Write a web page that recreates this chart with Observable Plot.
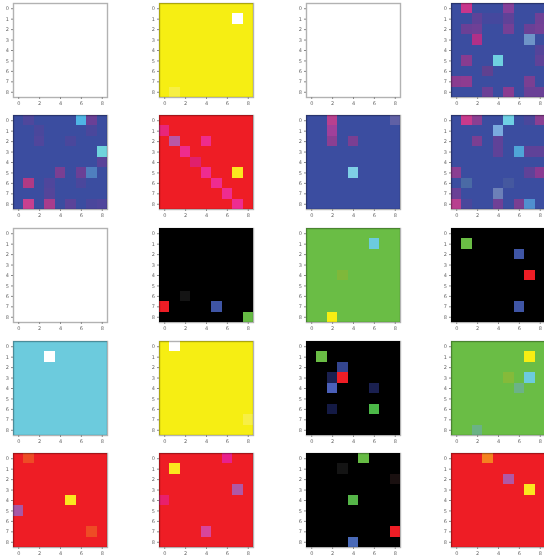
<!DOCTYPE html>
<html>
<head>
<meta charset="utf-8">
<script src="https://cdn.jsdelivr.net/npm/d3@7"></script>
<script src="https://cdn.jsdelivr.net/npm/@observablehq/plot@0.6"></script>
<style>
html,body{margin:0;padding:0;background:#fff;overflow:hidden;width:544px;height:560px}
#grid{position:relative;width:544px;height:560px;overflow:hidden;filter:blur(0.5px)}
#grid svg{position:absolute;background:transparent;overflow:visible}
</style>
</head>
<body>
<div id="grid"></div>
<script>
const gridIndex = [0,1,2,3,4,5,6,7,8];
const xTicks = [0,2,4,6,8];
const yTicks = gridIndex;
const W="#ffffff",Y="#f6ee13",B="#3b4da0",R="#ee1d25",K="#000000",G="#6abd45",C="#6ccbdd";

// background colour of each panel, row by row
const backgrounds = [W,Y,W,B, B,R,B,B, W,K,G,K, C,Y,K,G, R,R,K,R];

// differing cells of each panel: [column, row, colour]
const cells00 = [];
const cells01 = [[7,1,"#ffffff"],[1,8,"#f7ef45"]];
const cells02 = [];
const cells03 = [[1,0,"#c8358c"],[5,0,"#85409a"],[2,1,"#5f4298"],[3,1,"#45489e"],[4,1,"#45489e"],[5,1,"#5f4298"],[8,1,"#6f4096"],
  [1,2,"#6a4096"],[2,2,"#6f4096"],[5,2,"#744096"],[7,2,"#6a4096"],[8,2,"#744096"],[2,3,"#b03088"],[7,3,"#6e94c8"],[8,4,"#54449a"],
  [1,5,"#873c90"],[4,5,"#6fd0e0"],[8,5,"#5f4298"],[3,6,"#5f4190"],[0,7,"#8a3c90"],[1,7,"#8f3c90"],[7,7,"#7a3f92"],
  [3,8,"#6b4096"],[5,8,"#8a3c90"],[7,8,"#6a4096"],[8,8,"#6a4096"]];
const cells10 = [[1,0,"#4f479c"],[6,0,"#4fb5e5"],[7,0,"#6a4096"],[7,1,"#4a479c"],[2,1,"#4a479c"],[2,2,"#50469c"],[5,2,"#4a479c"],
  [8,3,"#6fd3dc"],[8,4,"#5a4399"],[4,5,"#7a3f92"],[6,5,"#6a4096"],[7,5,"#4f7fbf"],[1,6,"#b03a84"],[3,6,"#4f469c"],[6,6,"#4a479c"],
  [3,7,"#54459a"],[1,8,"#c8408f"],[3,8,"#a83c8c"],[5,8,"#5a4399"],[7,8,"#4a479c"],[8,8,"#50469c"]];
const cells11 = [[0,1,"#e8267a"],[1,2,"#b858a5"],[4,2,"#ee2c8c"],[2,3,"#ee2c8c"],[3,4,"#e0206c"],[4,5,"#ee2c90"],[7,5,"#fbe61f"],
  [5,6,"#ee2c90"],[6,7,"#ee2c90"],[7,8,"#ee2c90"]];
const cells12 = [[2,0,"#b8408f"],[8,0,"#6060a5"],[2,1,"#a0409a"],[2,2,"#8a3f92"],[4,2,"#7a3f92"],[4,5,"#7fd0e6"]];
const cells13 = [[1,0,"#c83a8c"],[2,0,"#8a3f92"],[5,0,"#6fd0e4"],[7,0,"#4a479c"],[8,0,"#8a3f92"],[4,1,"#7aaade"],[2,2,"#7a3f92"],
  [4,2,"#5f4298"],[4,3,"#5f4298"],[6,3,"#4fa5d8"],[7,3,"#5f4298"],[8,3,"#5f4298"],[0,5,"#8a3f92"],[7,5,"#5f4298"],[8,5,"#8a3a92"],
  [1,6,"#4a6aa5"],[5,6,"#45589f"],[0,7,"#6a4096"],[4,7,"#6c80b8"],[0,8,"#b8408f"],[1,8,"#4a479c"],[4,8,"#6f4096"],[6,8,"#7a3f92"],[7,8,"#5090cf"]];
const cells20 = [];
const cells21 = [[2,6,"#141414"],[0,7,"#ee1d25"],[5,7,"#3f55a5"],[8,8,"#66bb44"]];
const cells22 = [[6,1,"#6ccbdd"],[3,4,"#7fb83a"],[2,8,"#f6ee13"]];
const cells23 = [[1,1,"#6abd45"],[6,2,"#3f55a5"],[7,4,"#ee1d25"],[6,7,"#3f55a5"]];
const cells30 = [[3,1,"#ffffff"]];
const cells31 = [[1,0,"#ffffff"],[8,7,"#f7ef45"]];
const cells32 = [[1,1,"#6abd45"],[3,2,"#34458f"],[2,3,"#1a2050"],[3,3,"#ee1d25"],[2,4,"#4a5fb8"],[6,4,"#1a2050"],[2,6,"#141a45"],[6,6,"#4cb848"]];
const cells33 = [[7,1,"#f6ee13"],[5,3,"#85ba3a"],[7,3,"#6ccbdd"],[6,4,"#6cb288"],[2,8,"#6bb285"]];
const cells40 = [[1,0,"#ee4c25"],[5,4,"#fbe61f"],[0,5,"#a858a5"],[7,7,"#ee4c25"]];
const cells41 = [[6,0,"#e8208c"],[1,1,"#fbe61f"],[7,3,"#b058a5"],[0,4,"#e8206c"],[4,7,"#d8459b"]];
const cells42 = [[5,0,"#66bb44"],[3,1,"#141414"],[8,2,"#1a1010"],[4,4,"#55b548"],[8,7,"#ee1d25"],[4,8,"#4a6ab8"]];
const cells43 = [[3,0,"#f58220"],[5,2,"#b058a5"],[7,3,"#fbe61f"]];
const highlights = [cells00,cells01,cells02,cells03,cells10,cells11,cells12,cells13,cells20,cells21,cells22,cells23,cells30,cells31,cells32,cells33,cells40,cells41,cells42,cells43];

const lefts = [13,159,306,451];
const tops = [3,115,228,341,453];
const side = 94, mL = 13, mT = 3, mB = 13, mR = 2;
const host = document.getElementById("grid");

highlights.forEach((hl, i) => {
  const col = i % 4, row = Math.floor(i / 4);
  const table = [];
  for (const r of gridIndex) for (const c of gridIndex) table.push({c, r, fill: backgrounds[i]});
  for (const [c, r, fill] of hl) table[r * 9 + c].fill = fill;
  const chart = Plot.plot({
    width: mL + side + mR, height: mT + side + mB,
    marginLeft: mL, marginTop: mT, marginBottom: mB, marginRight: mR,
    style: {fontSize: "5px", fontFamily: "DejaVu Sans", color: "#666", background: "transparent"},
    x: {type: "band", domain: gridIndex, padding: 0, round: false, axis: null, label: null},
    y: {type: "band", domain: gridIndex, padding: 0, round: false, axis: null, label: null},
    color: {type: "identity"},
    marks: [
      Plot.cell(table, {x: "c", y: "r", fill: "fill", shapeRendering: "crispEdges"}),
      Plot.frame({stroke: "#000", strokeOpacity: 0.3, strokeWidth: 1.4}),
      Plot.axisX(xTicks, {anchor: "bottom", tickSize: 2, tickPadding: 1.5, label: null, stroke: "#888", fill: "#666"}),
      Plot.axisY(yTicks, {anchor: "left", tickSize: 2, tickPadding: 2.5, label: null, stroke: "#888", fill: "#666"})
    ]
  });
  chart.style.left = (lefts[col] - mL) + "px";
  chart.style.top = (tops[row] - mT) + "px";
  host.appendChild(chart);
});
</script>
</body>
</html>
